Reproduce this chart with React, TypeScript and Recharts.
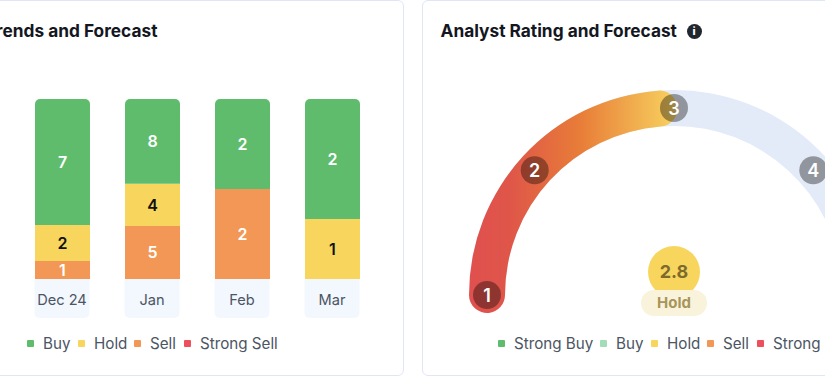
import React from "react";
import { BarChart, Bar, XAxis, YAxis, LabelList, RadialBarChart, RadialBar, PolarAngleAxis } from "recharts";

const FONT = "Inter, 'Noto Sans', sans-serif";

const months = ["Dec 24", "Jan", "Feb", "Mar"];
const buyValues = [7, 8, 2, 2];
const holdValues = [2, 4, 0, 1];
const sellValues = [1, 5, 2, 0];
const strongSellValues = [0, 0, 0, 0];

const GREEN = "#5FBC6D";
const YELLOW = "#F8D65E";
const ORANGE = "#F29755";
const RED = "#EF4E5B";

const barSeries = [
  { key: "Buy", values: buyValues, color: GREEN, label: "#FFFFFF" },
  { key: "Hold", values: holdValues, color: YELLOW, label: "#111111" },
  { key: "Sell", values: sellValues, color: ORANGE, label: "#FFFFFF" },
  { key: "Strong Sell", values: strongSellValues, color: RED, label: "#FFFFFF" },
];
const barData = months.map((m, i) => {
  const row: Record<string, string | number> = { month: m };
  barSeries.forEach((s) => (row[s.key] = s.values[i]));
  return row;
});

const ratingScore = 2.8;
const ratingName = "Hold";
const gaugeArcEnd = 2.9;
const gaugeTicks = [1, 1.93, 3, 4.07, 5];
const gaugeLegend = [
  { name: "Strong Buy", color: GREEN },
  { name: "Buy", color: "#A2DDB8" },
  { name: "Hold", color: YELLOW },
  { name: "Sell", color: ORANGE },
  { name: "Strong Sell", color: RED },
];
const gaugeData = [{ name: "rating", value: gaugeArcEnd }];

function LegendRow({ items, left, gaps }: { items: { name: string; color: string }[]; left: number; gaps: number[] }) {
  return (
    <div style={{ position: "absolute", left, top: 332.5, height: 22, whiteSpace: "nowrap", fontFamily: FONT, fontSize: 15.2, color: "#4B5563", lineHeight: "22px" }}>
      {items.map((it, i) => (
        <span key={it.name} style={{ position: "absolute", left: gaps[i], top: 0 }}>
          <span style={{ position: "absolute", left: 0, top: 7, width: 7, height: 7, background: it.color, borderRadius: 1 }} />
          <span style={{ marginLeft: 16 }}>{it.name}</span>
        </span>
      ))}
    </div>
  );
}

function MonthTick({ x, y, payload }: any) {
  const w = 55, h = 39, r = 5;
  const l = x - w / 2;
  return (
    <g>
      <path d={`M${l},${y}h${w}v${h - r}a${r},${r} 0 0 1 -${r},${r}h-${w - 2 * r}a${r},${r} 0 0 1 -${r},-${r}z`} fill="#F3F7FE" />
      <text x={x} y={y + 25.5} textAnchor="middle" fontFamily={FONT} fontSize={14.6} fill="#4B5563">{payload.value}</text>
    </g>
  );
}

function GaugeTick({ x, y, payload }: any) {
  return (
    <g>
      <circle cx={x} cy={y} r={14} fill="#000" fillOpacity={0.36} />
      <text x={x} y={y + 6.5} textAnchor="middle" fontFamily={FONT} fontSize={18} fontWeight={600} fill="#fff">{Math.round(payload.value)}</text>
    </g>
  );
}

const hideZero = (v: any) => (v ? v : "");
const stackOrder = barSeries.slice().reverse();

export default function App() {
  return (
    <div style={{ position: "absolute", left: 0, top: 0, width: 825, height: 376, overflow: "hidden", background: "#fff", fontFamily: FONT }}>
      <div style={{ position: "absolute", left: -40, top: 0, width: 444, height: 376, boxSizing: "border-box", border: "1px solid #DFE7F5", borderRadius: 6 }} />
      <div style={{ position: "absolute", left: 422, top: 0, width: 460, height: 376, boxSizing: "border-box", border: "1px solid #DFE7F5", borderRadius: 6 }} />

      <div style={{ position: "absolute", right: 825 - 157.5, top: 19, whiteSpace: "nowrap", fontSize: 17.3, fontWeight: 700, color: "#14171F", lineHeight: "24px" }}>Trends and Forecast</div>
      <div style={{ position: "absolute", left: 440.5, top: 19, whiteSpace: "nowrap", fontSize: 17.3, fontWeight: 700, color: "#14171F", lineHeight: "24px" }}>Analyst Rating and Forecast</div>
      <div style={{ position: "absolute", left: 686.5, top: 23.5, width: 15, height: 15, borderRadius: 8, background: "#22262E", color: "#fff", fontSize: 11, fontWeight: 800, lineHeight: "15px", textAlign: "center" }}>i</div>

      <div style={{ position: "absolute", left: 0, top: 0 }}>
        <BarChart width={403} height={376} data={barData} stackOffset="expand" barSize={55} barCategoryGap={35}
          margin={{ top: 99, left: 17, right: 26, bottom: 58 }}>
          <XAxis dataKey="month" axisLine={false} tickLine={false} tickSize={0} tickMargin={0} height={39} interval={0} tick={<MonthTick />} />
          <YAxis hide domain={[0, 1]} />
          {stackOrder.map((s) => (
            <Bar key={s.key} dataKey={s.key} stackId="a" fill={s.color} isAnimationActive={false} radius={s.key === "Buy" ? [5, 5, 0, 0] : 0}>
              <LabelList dataKey={s.key} position="center" formatter={hideZero} fill={s.label} fontFamily={FONT} fontSize={16} fontWeight={600} />
            </Bar>
          ))}
        </BarChart>
      </div>
      <LegendRow items={barSeries.map((s) => ({ name: s.key, color: s.color }))} left={27} gaps={[0, 51, 107, 157]} />

      <div style={{ position: "absolute", left: 422, top: 0 }}>
        <RadialBarChart width={403} height={376} data={gaugeData} cx={252} cy={295} innerRadius={167} outerRadius={207} startAngle={180} endAngle={0} barSize={40} margin={{ top: 0, left: 0, right: 0, bottom: 0 }}>
          <defs>
            <linearGradient id="gaugeFill" gradientUnits="userSpaceOnUse" x1={47} y1={0} x2={250} y2={0}>
              <stop offset="0%" stopColor="#E0504F" />
              <stop offset="20%" stopColor="#DF5649" />
              <stop offset="55%" stopColor="#E87D38" />
              <stop offset="100%" stopColor="#F7CF5E" />
            </linearGradient>
          </defs>
          <PolarAngleAxis type="number" domain={[1, 5]} ticks={gaugeTicks} axisLine={false} tickLine={false} orientation="inner" tickSize={20} tick={<GaugeTick />} />
          <RadialBar dataKey="value" cornerRadius={20} cornerIsExternal fill="url(#gaugeFill)" background={{ fill: "#E3EAF8" }} isAnimationActive={false} />
        </RadialBarChart>
      </div>
      <LegendRow items={gaugeLegend} left={498} gaps={[0, 102, 153, 209, 259]} />

      <div style={{ position: "absolute", left: 648, top: 246, width: 52, height: 52, borderRadius: 26, background: YELLOW, color: "#7D6A2C", fontSize: 18, fontWeight: 700, textAlign: "center", lineHeight: "52px" }}>{ratingScore}</div>
      <div style={{ position: "absolute", left: 641, top: 290, width: 66, height: 26, borderRadius: 13, background: "#F9F3DC", color: "#A8955A", fontSize: 15, fontWeight: 700, textAlign: "center", lineHeight: "26px" }}>{ratingName}</div>
    </div>
  );
}
